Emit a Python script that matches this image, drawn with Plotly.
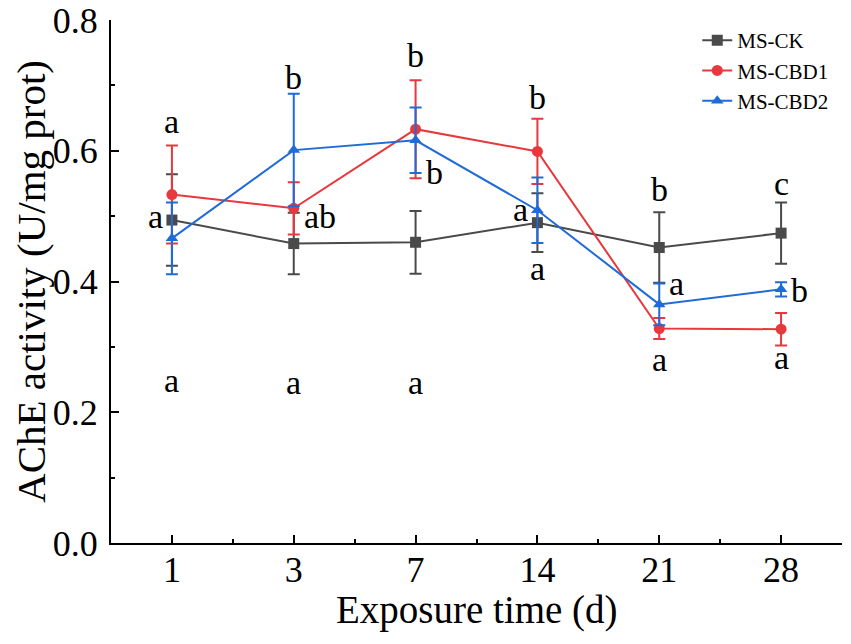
import plotly.graph_objects as go

# exposure days and AChE activity (U/mg prot)
days = ["1", "3", "7", "14", "21", "28"]

ck_mean = [0.494, 0.458, 0.460, 0.490, 0.452, 0.474]
ck_err = [0.070, 0.047, 0.048, 0.045, 0.054, 0.047]

cbd1_mean = [0.533, 0.512, 0.633, 0.599, 0.328, 0.327]
cbd1_err = [0.075, 0.040, 0.075, 0.050, 0.016, 0.025]

cbd2_mean = [0.466, 0.601, 0.616, 0.509, 0.365, 0.388]
cbd2_err = [0.055, 0.086, 0.050, 0.050, 0.032, 0.011]

# significance letters
top_letters = ["a", "b", "b", "b", "b", "c"]
top_y = [0.644, 0.712, 0.746, 0.682, 0.540, 0.550]
side_letters = ["a", "ab", "b", "a", "a", "b"]
side_y = [0.500, 0.500, 0.566, 0.510, 0.397, 0.387]
side_left = [True, False, False, True, False, False]
bottom_letters = ["a", "a", "a", "a", "a", "a"]
bottom_y = [0.249, 0.246, 0.246, 0.420, 0.280, 0.284]

FONT = "Liberation Serif, Times New Roman, serif"

series = [
    ("MS-CK", ck_mean, ck_err, "#4a4a4a", "square"),
    ("MS-CBD1", cbd1_mean, cbd1_err, "#e8383d", "circle"),
    ("MS-CBD2", cbd2_mean, cbd2_err, "#1f6bd8", "triangle-up"),
]

xpos = list(range(len(days)))

fig = go.Figure()
for name, mean, err, colour, symbol in series:
    fig.add_trace(go.Scatter(
        x=xpos, y=mean, name=name,
        mode="lines+markers",
        line=dict(color=colour, width=2),
        marker=dict(color=colour, symbol=symbol, size=11),
        error_y=dict(type="data", array=err, color=colour, thickness=2, width=6),
    ))

annotations = []
for i in xpos:
    annotations.append(dict(x=i, y=top_y[i], text=top_letters[i], showarrow=False,
                            xref="x", yref="y"))
    annotations.append(dict(x=i, y=bottom_y[i], text=bottom_letters[i], showarrow=False,
                            xref="x", yref="y"))
    if side_left[i]:
        annotations.append(dict(x=i, y=side_y[i], text=side_letters[i], showarrow=False,
                                xref="x", yref="y", xanchor="right", xshift=-7))
    else:
        annotations.append(dict(x=i, y=side_y[i], text=side_letters[i], showarrow=False,
                                xref="x", yref="y", xanchor="left", xshift=8))
for a in annotations:
    a["font"] = dict(family=FONT, size=34, color="black")

# x axis title as a paper annotation so it can sit closer to the tick labels
annotations.append(dict(x=0.5, y=-0.128, xref="paper", yref="paper", showarrow=False,
                        yanchor="middle", text="Exposure time (d)",
                        font=dict(family=FONT, size=39, color="black")))

# the page adds an 8px body margin, so the figure is drawn 8px smaller
fig.update_layout(
    width=843, height=636,
    margin=dict(l=103, r=9, t=12, b=101),
    plot_bgcolor="white", paper_bgcolor="white",
    font=dict(family=FONT, color="black"),
    annotations=annotations,
    legend=dict(x=0.802, y=1.0, xanchor="left", yanchor="top",
                font=dict(family=FONT, size=21), bgcolor="rgba(0,0,0,0)",
                tracegroupgap=0),
    xaxis=dict(
        range=[-0.5, 5.5], tickvals=xpos, ticktext=days, automargin=False,
        showline=True, linecolor="black", linewidth=2, mirror=False,
        ticks="inside", ticklen=8, tickwidth=2, tickcolor="black",
        minor=dict(tickvals=[i + 0.5 for i in xpos], ticks="inside", ticklen=4,
                   tickwidth=2, tickcolor="black"),
        showgrid=False, zeroline=False,
        tickfont=dict(size=36), ticklabelstandoff=-6,
    ),
    yaxis=dict(
        range=[0, 0.8], dtick=0.2, tickformat=".1f", automargin=False,
        showline=True, linecolor="black", linewidth=2,
        ticks="inside", ticklen=8, tickwidth=2, tickcolor="black",
        minor=dict(dtick=0.1, ticks="inside", ticklen=4, tickwidth=2, tickcolor="black"),
        showgrid=False, zeroline=False,
        tickfont=dict(size=36), ticklabelstandoff=4, ticklabeloverflow="allow",
        title=dict(text="AChE activity (U/mg prot)", font=dict(size=41), standoff=24),
    ),
)

fig.write_html("out.html")
